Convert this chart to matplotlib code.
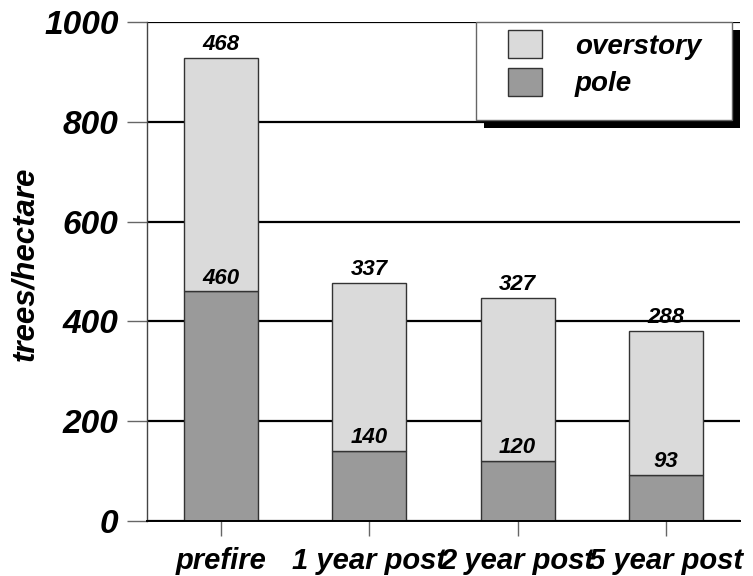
#%% Imports
import numpy as np
import matplotlib
matplotlib.use('Agg')
import matplotlib.pyplot as plt
from matplotlib.patches import Rectangle, Patch

#%% Data
periods = ['prefire', '1 year post', '2 year post', '5 year post']
pole = [460, 140, 120, 93]
overstory = [468, 337, 327, 288]

#%% Style
font = dict(family='Liberation Sans', weight='bold', style='italic')
c_over = '#dadada'
c_pole = '#9a9a9a'
c_edge = '#333333'

#%% Plot
fig = plt.figure(figsize=(7.53, 5.76), dpi=100)
ax = fig.add_axes([0.1952, 0.0955, 0.7875, 0.8663])

x = np.arange(len(periods))
ax.bar(x, pole, width=0.5, color=c_pole, edgecolor=c_edge, linewidth=1, zorder=2)
ax.bar(x, overstory, width=0.5, bottom=pole, color=c_over, edgecolor=c_edge,
       linewidth=1, zorder=2)

## value labels
tops = np.array(pole) + np.array(overstory)
for xi, p, o, t in zip(x, pole, overstory, tops):
    ax.annotate(str(p), (xi, p), xytext=(0, 2), textcoords='offset points',
                ha='center', va='bottom', fontsize=16, zorder=4, **font)
    ax.annotate(str(o), (xi, t), xytext=(0, 2), textcoords='offset points',
                ha='center', va='bottom', fontsize=16, zorder=4, **font)

## axes
ax.set_xlim(-0.5, len(periods) - 0.5)
ax.set_ylim(0, 1000)
ax.set_yticks(np.arange(0, 1001, 200))
ax.set_xticks(x)
ax.set_xticklabels(periods)
ax.yaxis.grid(True, color='black', linewidth=1.6, zorder=0)
ax.set_axisbelow(True)
for side in ['top', 'right']:
    ax.spines[side].set_visible(False)
ax.spines['left'].set_color('#444444')
ax.spines['left'].set_linewidth(1)
ax.spines['bottom'].set_color('black')
ax.spines['bottom'].set_linewidth(1.4)
ax.tick_params(axis='y', length=14.5, width=1, color='#666666', pad=6)
ax.tick_params(axis='x', length=11, width=1, color='#666666', pad=8)
for lab in ax.get_yticklabels():
    lab.set(fontsize=24, **font)
for lab in ax.get_xticklabels():
    lab.set(fontsize=21, **font)

ax.set_ylabel('trees/hectare', fontsize=22.5, **font)
ax.yaxis.set_label_coords(-0.1805, 0.515)

## legend frame with hard shadow
ax.add_patch(Rectangle((0.5683, 0.787), 0.4317, 0.197, transform=ax.transAxes,
                       facecolor='black', edgecolor='none', zorder=5,
                       clip_on=False))
ax.add_patch(Rectangle((0.5548, 0.8036), 0.4317, 0.1964, transform=ax.transAxes,
                       facecolor='white', edgecolor='#666666', linewidth=1,
                       zorder=6, clip_on=False))
handles = [
    Patch(facecolor=c_over, edgecolor=c_edge, label='overstory'),
    Patch(facecolor=c_pole, edgecolor=c_edge, label='pole'),
]
leg = ax.legend(handles=handles, loc='upper left', bbox_to_anchor=(0.6088, 0.984),
                frameon=False, borderpad=0, borderaxespad=0,
                handlelength=1.22, handleheight=1.19, handletextpad=1.19,
                labelspacing=0.29, prop=dict(size=20, **font))
leg.set_zorder(7)

fig.savefig('out.png', dpi=100)
